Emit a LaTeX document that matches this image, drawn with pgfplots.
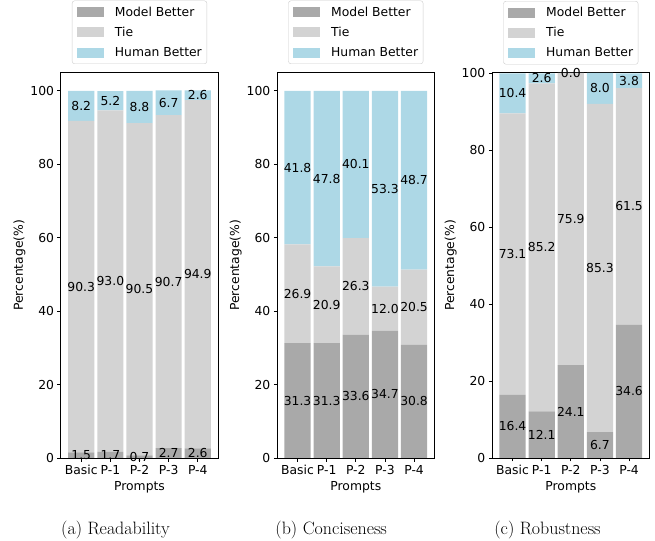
\documentclass[border=0pt]{standalone}
\usepackage{fontspec}
\usepackage{pgfplots}
\usepackage{pgfplotstable}
\pgfplotsset{compat=1.18}
\newfontfamily\dejavu{DejaVu Sans}
\definecolor{mbetter}{HTML}{A9A9A9}
\definecolor{tiec}{HTML}{D3D3D3}
\definecolor{hbetter}{HTML}{ADD8E6}

\pgfplotstableread{
x m t h
0 1.5 90.3 8.2
1 1.7 93.0 5.2
2 0.7 90.5 8.8
3 2.7 90.7 6.7
4 2.6 94.9 2.6
}\readtab
\pgfplotstableread{
x m t h
0 31.3 26.9 41.8
1 31.3 20.9 47.8
2 33.6 26.3 40.1
3 34.7 12.0 53.3
4 30.8 20.5 48.7
}\concisetab
\pgfplotstableread{
x m t h
0 16.4 73.1 10.4
1 12.1 85.2 2.6
2 24.1 75.9 0.0
3 6.7 85.3 8.0
4 34.6 61.5 3.8
}\robusttab

\newcommand\chfont{\dejavu\fontsize{12.4}{14.9}\selectfont}

\pgfplotsset{
  base/.style={
    scale only axis, width=157bp, anchor=south west,
    xmin=-0.695, xmax=4.695, ymin=0,
  },
  panel/.style={
    base,
    xtick={0,1,2,3,4}, xticklabels={Basic,P-1,P-2,P-3,P-4},
    ytick={0,20,40,60,80,100},
    tick align=outside, major tick length=3.5bp,
    xtick pos=bottom, ytick pos=left,
    axis line style={line width=1bp, black},
    every tick/.style={black, line width=0.8bp},
    /pgf/number format/assume math mode=true,
    tick label style={font=\chfont},
    label style={font=\chfont},
    xlabel={Prompts}, ylabel={Percentage(\%)},
    every axis y label/.style={at={(axis description cs:-0.2643,0.5)}, rotate=90, anchor=center},
    every axis x label/.style={at={(axis description cs:0.5,0)}, anchor=base, yshift=-32bp},
    ybar stacked, bar width=0.9,
    legend cell align=left,
    legend image code/.code={\fill[##1, sharp corners] (0bp,-5bp) rectangle (26.7bp,5bp);},
    legend style={at={(0.5,1)}, anchor=south, yshift=8.5bp, draw=black!20,
      rounded corners=2.5bp, fill=white, inner xsep=5bp, inner ysep=6bp,
      row sep=9.4bp, column sep=11bp, nodes={inner sep=0pt}, font=\chfont},
  },
  labs/.style={
    base, hide axis, clip=false,
  },
  lbl/.style={only marks, mark=none, nodes near coords={\pgfplotspointmeta},
    point meta=explicit symbolic,
    nodes near coords style={anchor=center, font=\chfont, inner sep=0pt}},
}

\newcommand\panel[4]{%
  \begin{axis}[panel, at={(#1bp,83bp)}, height=#3bp, ymax=#2]
    \addplot[fill=mbetter, draw=none] table[x=x,y=m]{#4};
    \addplot[fill=tiec, draw=none] table[x=x,y=t]{#4};
    \addplot[fill=hbetter, draw=none] table[x=x,y=h]{#4};
    \legend{Model Better, Tie, Human Better}
  \end{axis}
  \begin{axis}[labs, at={(#1bp,83bp)}, height=#3bp, ymax=#2]
    \addplot[lbl] table[x=x, y expr=\thisrow{m}/2, meta=m]{#4};
    \addplot[lbl] table[x=x, y expr=\thisrow{m}+\thisrow{t}/2, meta=t]{#4};
    \addplot[lbl] table[x=x, y expr=\thisrow{m}+\thisrow{t}+\thisrow{h}/2, meta=h]{#4};
  \end{axis}
}

\begin{document}
\begin{tikzpicture}[font=\chfont]
\path[use as bounding box] (0,0) rectangle (655bp,541bp);
\panel{61}{105}{385.5}{\readtab}
\panel{277.3}{105}{385.5}{\concisetab}
\panel{492.3}{100}{385}{\robusttab}
\node[font=\rmfamily\fontsize{18}{21}\selectfont, anchor=base] at (115.5bp,7bp) {(a) Readability};
\node[font=\rmfamily\fontsize{18}{21}\selectfont, anchor=base] at (331.2bp,7bp) {(b) Conciseness};
\node[font=\rmfamily\fontsize{18}{21}\selectfont, anchor=base] at (547.5bp,7bp) {(c) Robustness};
\end{tikzpicture}
\end{document}
